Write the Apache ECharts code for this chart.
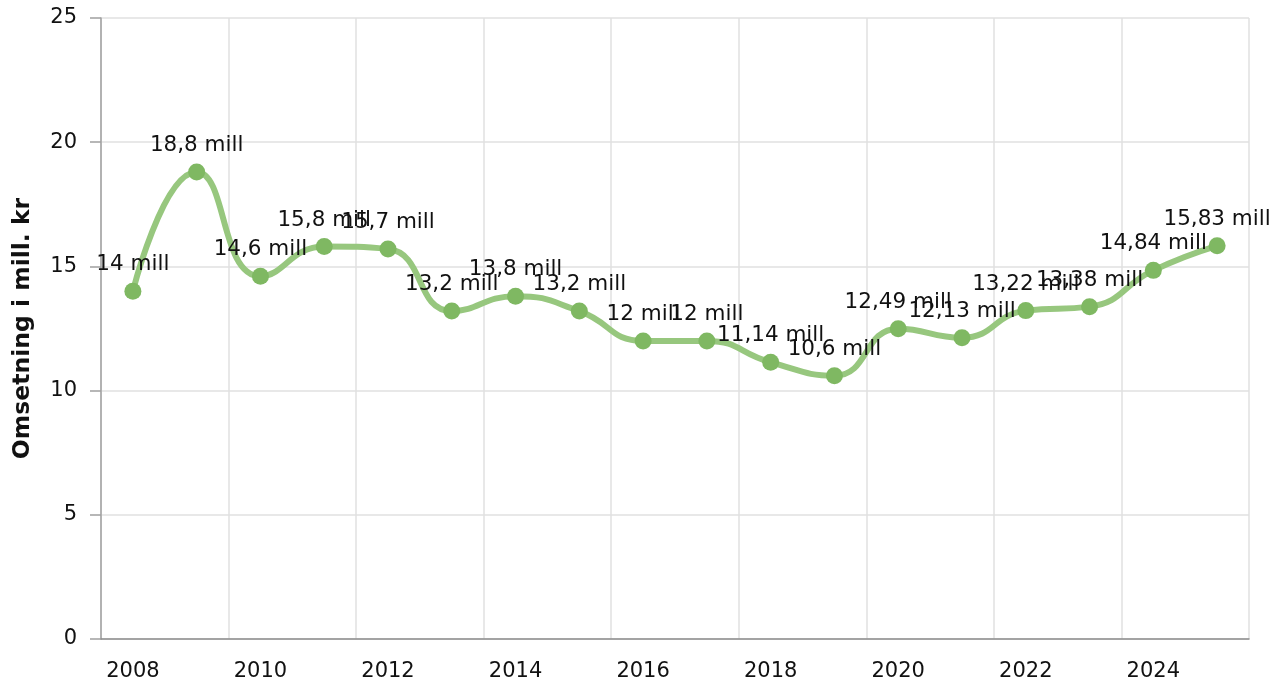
<!DOCTYPE html>
<html>
<head>
<meta charset="utf-8">
<script src="https://cdn.jsdelivr.net/npm/echarts@6/dist/echarts.min.js"></script>
<style>
  html, body { margin: 0; padding: 0; background: #fff; }
  #chart { width: 1286px; height: 690px; }
</style>
</head>
<body>
<div id="chart"></div>
<script>
  const years = ['2008', '2009', '2010', '2011', '2012', '2013', '2014', '2015', '2016',
    '2017', '2018', '2019', '2020', '2021', '2022', '2023', '2024', '2025'];
  const omsetning = [14, 18.8, 14.6, 15.8, 15.7, 13.2, 13.8, 13.2, 12,
    12, 11.14, 10.6, 12.49, 12.13, 13.22, 13.38, 14.84, 15.83];
  const yName = 'Omsetning i mill. kr';

  const font = 'DejaVu Sans, Verdana, sans-serif';
  const chart = echarts.init(document.getElementById('chart'));

  chart.setOption({
    backgroundColor: '#ffffff',
    animation: false,
    grid: {
      left: 101,
      right: 37,
      top: 18,
      bottom: 51,
    },
    xAxis: {
      type: 'category',
      data: years,
      boundaryGap: true,
      axisLine: {lineStyle: {color: '#8c8c8c', width: 1.5}},
      axisTick: {
        alignWithLabel: true,
        interval: 1,
        length: 9,
        lineStyle: {color: '#8c8c8c', width: 1.5},
      },
      axisLabel: {
        interval: 1,
        margin: 22,
        color: '#111',
        fontSize: 21,
        fontFamily: font,
      },
      splitLine: {
        show: true,
        interval: 1,
        lineStyle: {color: '#e0e0e0', width: 1.5},
      },
    },
    yAxis: {
      type: 'value',
      min: 0,
      max: 25,
      interval: 5,
      name: yName,
      nameLocation: 'middle',
      nameGap: 66,
      nameTextStyle: {
        fontSize: 23.5,
        fontWeight: 'bold',
        color: '#111',
        fontFamily: font,
      },
      axisLine: {show: true, lineStyle: {color: '#a0a0a0', width: 1.5}},
      axisTick: {show: true, length: 11, lineStyle: {color: '#a0a0a0', width: 1.5}},
      axisLabel: {
        margin: 24,
        color: '#111',
        fontSize: 21,
        fontFamily: font,
      },
      splitLine: {lineStyle: {color: '#e0e0e0', width: 1.5}},
    },
    series: [
      {
        type: 'line',
        data: omsetning,
        smooth: true,
        symbol: 'circle',
        symbolSize: 17,
        lineStyle: {color: '#97c77e', width: 6},
        itemStyle: {color: '#7fb862'},
        label: {
          show: true,
          position: 'top',
          distance: 7,
          color: '#111',
          fontSize: 21.5,
          fontFamily: font,
          formatter: p => String(p.value).replace('.', ',') + ' mill',
        },
        z: 3,
      },
    ],
  });
</script>
</body>
</html>
